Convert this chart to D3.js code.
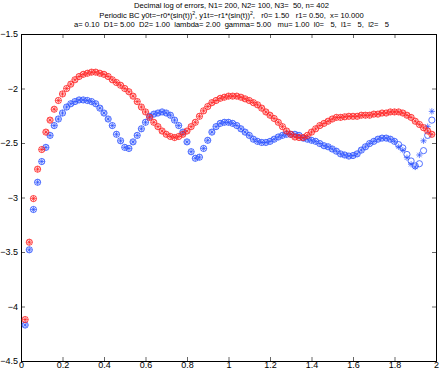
<!DOCTYPE html>
<html>
<head>
<meta charset="utf-8">
<script src="https://cdn.jsdelivr.net/npm/d3@7"></script>
<style>
body { margin: 0; background: #fff; }
text { font-family: "Liberation Sans", Arial, sans-serif; }
</style>
</head>
<body>
<script>
// x grid and decimal log errors
var xs = d3.range(1, 100).map(function (k) { return k * 0.02; });

var red = [-4.12, -3.41, -3.01, -2.74, -2.56, -2.40, -2.29, -2.19, -2.11, -2.05,
  -2.00, -1.96, -1.92, -1.89, -1.87, -1.86, -1.85, -1.85, -1.86, -1.87,
  -1.89, -1.92, -1.945, -1.97, -2.00, -2.03, -2.07, -2.12, -2.17, -2.215,
  -2.265, -2.31, -2.35, -2.39, -2.42, -2.44, -2.45, -2.44, -2.42, -2.39,
  -2.35, -2.31, -2.255, -2.205, -2.165, -2.13, -2.11, -2.09, -2.08, -2.07,
  -2.07, -2.07, -2.08, -2.095, -2.11, -2.13, -2.15, -2.18, -2.215, -2.245,
  -2.275, -2.31, -2.35, -2.39, -2.42, -2.445, -2.45, -2.45, -2.43, -2.40,
  -2.37, -2.34, -2.32, -2.30, -2.28, -2.265, -2.265, -2.26, -2.255, -2.255,
  -2.255, -2.245, -2.245, -2.245, -2.235, -2.235, -2.225, -2.225, -2.215, -2.215,
  -2.215, -2.225, -2.245, -2.265, -2.30, -2.33, -2.36, -2.39, -2.42];

var blue = [-4.17, -3.48, -3.11, -2.86, -2.67, -2.54, -2.43, -2.34, -2.28, -2.225,
  -2.17, -2.14, -2.12, -2.105, -2.105, -2.11, -2.12, -2.14, -2.18, -2.225,
  -2.28, -2.34, -2.42, -2.48, -2.54, -2.55, -2.49, -2.43, -2.37, -2.31,
  -2.255, -2.235, -2.225, -2.215, -2.225, -2.245, -2.29, -2.34, -2.40, -2.49,
  -2.58, -2.64, -2.63, -2.55, -2.475, -2.40, -2.35, -2.32, -2.31, -2.31,
  -2.32, -2.34, -2.37, -2.40, -2.43, -2.465, -2.485, -2.495, -2.495, -2.485,
  -2.465, -2.445, -2.43, -2.42, -2.42, -2.42, -2.43, -2.455, -2.465, -2.475,
  -2.485, -2.505, -2.525, -2.535, -2.555, -2.575, -2.60, -2.61, -2.62, -2.615,
  -2.60, -2.565, -2.535, -2.505, -2.485, -2.465, -2.455, -2.455, -2.465, -2.485];

// last points, where the two blue sets split apart
var blueCircleTail = [-2.515, -2.545, -2.605, -2.665, -2.71, -2.69, -2.57, -2.43, -2.29];
var blueStarTail = [-2.535, -2.565, -2.635, -2.695, -2.72, -2.61, -2.48, -2.35, -2.21];

var xTicks = [0, 0.2, 0.4, 0.6, 0.8, 1, 1.2, 1.4, 1.6, 1.8, 2];
var yTicks = [-1.5, -2, -2.5, -3, -3.5, -4, -4.5];

var W = 443, H = 374;
var margin = { left: 21, right: 7, top: 34, bottom: 13 };

var svg = d3.select("body").append("svg")
    .attr("width", W)
    .attr("height", H);

var x = d3.scaleLinear().domain([0, 2]).range([margin.left, W - margin.right]);
var y = d3.scaleLinear().domain([-4.5, -1.5]).range([H - margin.bottom, margin.top]);

var fmt = function (d) { return String(d).replace("-", "\u2212"); };

// axes with inward ticks
svg.append("g")
    .attr("transform", "translate(0," + y(-4.5) + ")")
    .call(d3.axisBottom(x).tickValues(xTicks).tickSize(-4).tickPadding(1).tickFormat(fmt));
svg.append("g")
    .attr("transform", "translate(0," + y(-1.5) + ")")
    .call(d3.axisTop(x).tickValues(xTicks).tickSize(-4).tickFormat(""));
svg.append("g")
    .attr("transform", "translate(" + x(0) + ",0)")
    .call(d3.axisLeft(y).tickValues(yTicks).tickSize(-4).tickPadding(3).tickFormat(fmt));
svg.append("g")
    .attr("transform", "translate(" + x(2) + ",0)")
    .call(d3.axisRight(y).tickValues(yTicks).tickSize(-4).tickFormat(""));

svg.selectAll(".domain").attr("stroke", "#000").attr("stroke-width", 1);
svg.selectAll(".tick line").attr("stroke", "#000").attr("stroke-width", 0.6);
svg.selectAll(".tick text").attr("font-size", 9).attr("fill", "#000")
    .attr("font-family", "Liberation Sans, Arial, sans-serif");

// title, three lines
var titleLines = [
  [["Decimal log of errors, N1= 200, N2= 100, N3=  50, n= 402"]],
  [["Periodic BC y0t=\u2212r0*(sin(t))"], ["2", true], [", y1t=\u2212r1*(sin(t))"], ["2", true], [",   r0= 1.50   r1= 0.50,  x= 10.000"]],
  [["a= 0.10  D1= 5.00  D2= 1.00  lambda= 2.00  gamma= 5.00   mu= 1.00  l0=   5,  l1=   5,  l2=   5"]]
];
var titleY = [8, 17.5, 26.5];
titleLines.forEach(function (parts, i) {
  var t = svg.append("text")
      .attr("x", x(1) + 3)
      .attr("y", titleY[i])
      .attr("text-anchor", "middle")
      .attr("font-size", 7.6)
      .style("white-space", "pre");
  parts.forEach(function (p) {
    var s = t.append("tspan").text(p[0]);
    if (p[1]) s.attr("font-size", 5.2).attr("dy", -3);
    else if (t.selectAll("tspan").size() > 1) s.attr("dy", 3);
  });
});

var R = 3.1;
function drawCircles(vals, xv, color) {
  svg.append("g").selectAll("circle")
    .data(vals)
    .join("circle")
      .attr("cx", function (d, i) { return x(xv[i]); })
      .attr("cy", function (d) { return y(d); })
      .attr("r", R)
      .attr("fill", "none")
      .attr("stroke", color)
      .attr("stroke-width", 0.8);
}
function drawStars(vals, xv, color) {
  var star = function (cx, cy) {
    var a = R, b = R * 0.72;
    return "M" + (cx - a) + "," + cy + "H" + (cx + a) +
      "M" + cx + "," + (cy - a) + "V" + (cy + a) +
      "M" + (cx - b) + "," + (cy - b) + "L" + (cx + b) + "," + (cy + b) +
      "M" + (cx - b) + "," + (cy + b) + "L" + (cx + b) + "," + (cy - b);
  };
  svg.append("g").selectAll("path")
    .data(vals)
    .join("path")
      .attr("d", function (d, i) { return star(x(xv[i]), y(d)); })
      .attr("fill", "none")
      .attr("stroke", color)
      .attr("stroke-width", 0.7);
}

var redColor = "#ff1e1e", blueColor = "#2a50ff";
var blueCircle = blue.concat(blueCircleTail);
var blueStar = blue.concat(blueStarTail);

drawCircles(blueCircle, xs, blueColor);
drawStars(blueStar, xs, blueColor);
drawCircles(red, xs, redColor);
drawStars(red, xs, redColor);
</script>
</body>
</html>
